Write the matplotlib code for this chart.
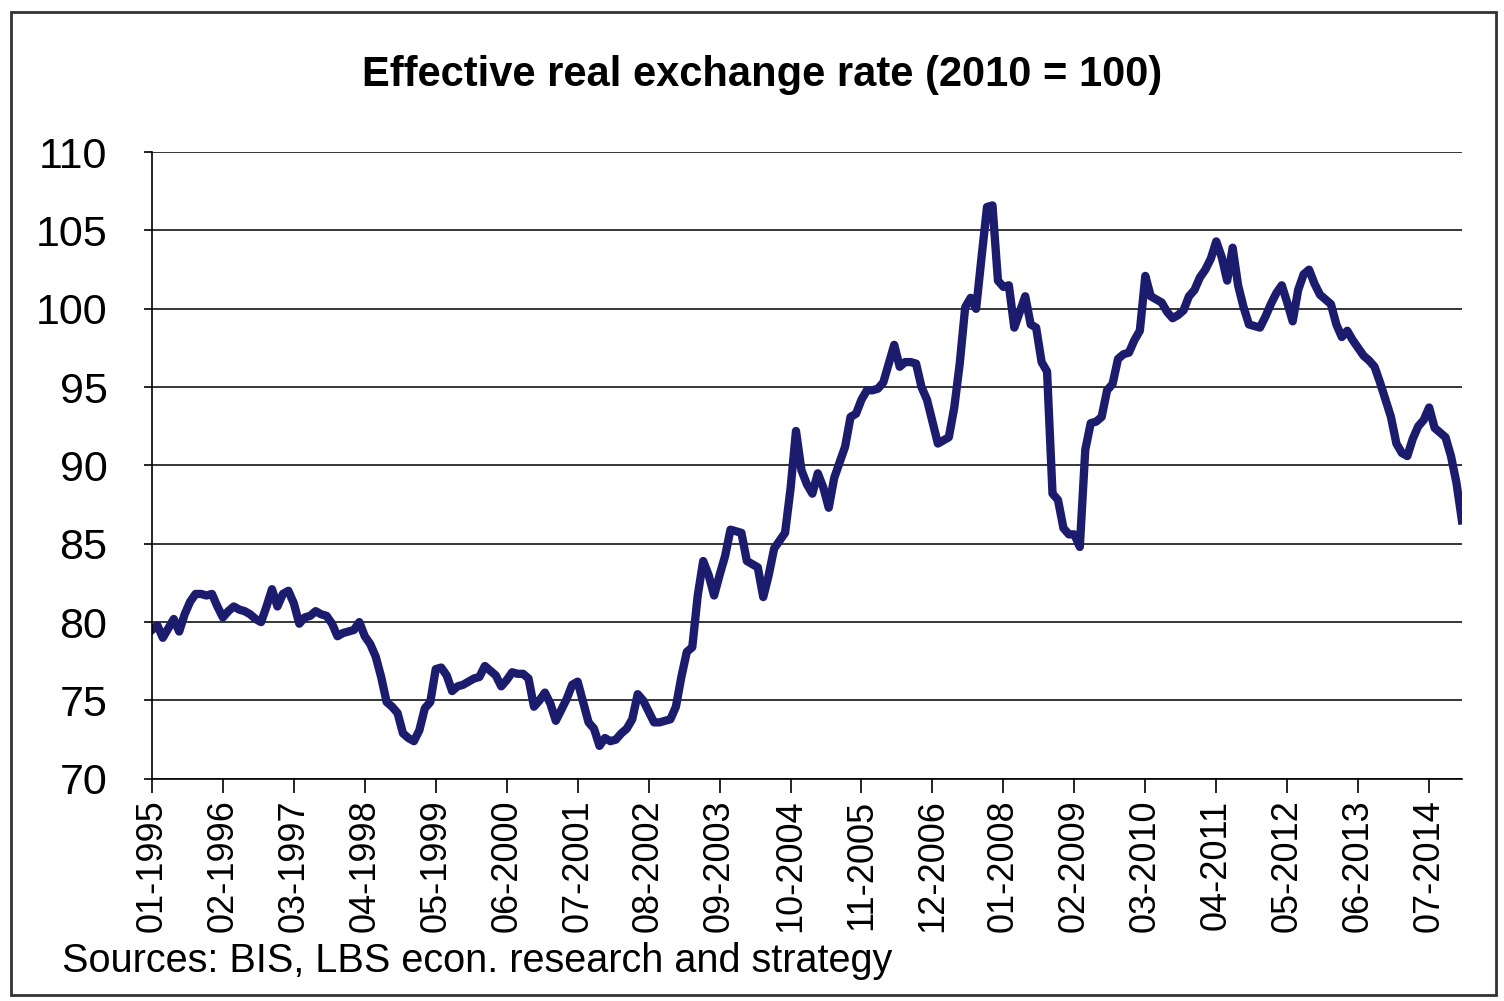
import matplotlib
matplotlib.use("Agg")
import matplotlib.pyplot as plt
from matplotlib.patches import Rectangle
import numpy as np

# monthly index, 01-1995 .. 01-2015
reer = [
    79.5, 79.8, 79.0, 79.6, 80.2, 79.4, 80.5, 81.3, 81.8, 81.8, 81.7, 81.8,
    81.0, 80.3, 80.7, 81.0, 80.8, 80.7, 80.5, 80.2, 80.0, 81.0, 82.1, 81.0,
    81.8, 82.0, 81.2, 79.9, 80.3, 80.4, 80.7, 80.5, 80.4, 79.9, 79.1, 79.3,
    79.4, 79.5, 80.0, 79.1, 78.6, 77.8, 76.5, 74.9, 74.6, 74.2, 72.9, 72.6,
    72.4, 73.1, 74.5, 74.9, 77.0, 77.1, 76.6, 75.6, 75.9, 76.0, 76.2, 76.4,
    76.5, 77.2, 76.9, 76.6, 75.9, 76.3, 76.8, 76.7, 76.7, 76.4, 74.6, 75.0,
    75.5, 74.8, 73.7, 74.4, 75.1, 76.0, 76.2, 74.9, 73.6, 73.2, 72.1, 72.6,
    72.4, 72.5, 72.9, 73.2, 73.8, 75.4, 75.0, 74.3, 73.6, 73.6, 73.7, 73.8,
    74.6, 76.5, 78.1, 78.4, 81.7, 83.9, 83.0, 81.7, 83.0, 84.2, 85.9, 85.8,
    85.7, 83.9, 83.7, 83.5, 81.6, 83.0, 84.7, 85.2, 85.7, 88.5, 92.2, 89.7,
    88.8, 88.2, 89.5, 88.6, 87.3, 89.2, 90.2, 91.2, 93.1, 93.3, 94.2, 94.8,
    94.8, 94.9, 95.3, 96.5, 97.7, 96.3, 96.6, 96.6, 96.5, 95.0, 94.2, 92.8,
    91.4, 91.6, 91.8, 93.7, 96.5, 100.1, 100.7, 100.0, 103.3, 106.5, 106.6, 101.8,
    101.4, 101.5, 98.8, 99.8, 100.8, 99.0, 98.8, 96.6, 96.0, 88.2, 87.8, 86.0,
    85.6, 85.6, 84.8, 91.0, 92.7, 92.8, 93.1, 94.8, 95.2, 96.8, 97.1, 97.2,
    98.0, 98.6, 102.1, 100.8, 100.6, 100.4, 99.8, 99.4, 99.6, 99.9, 100.8, 101.2,
    102.0, 102.5, 103.2, 104.3, 103.3, 101.8, 103.9, 101.5, 100.1, 99.0, 98.9, 98.8,
    99.5, 100.3, 101.0, 101.5, 100.4, 99.2, 101.2, 102.2, 102.5, 101.6, 100.9, 100.6,
    100.3, 99.0, 98.2, 98.6, 98.0, 97.5, 97.0, 96.7, 96.3, 95.3, 94.2, 93.1,
    91.4, 90.8, 90.6, 91.7, 92.5, 92.9, 93.7, 92.4, 92.1, 91.8, 90.6, 88.9,
    86.5,
]
start_year = 1995
months = [f"{(i % 12) + 1:02d}-{start_year + i // 12}" for i in range(len(reer))]
tick_step = 13
y_ticks = [70, 75, 80, 85, 90, 95, 100, 105, 110]

plt.rcParams['font.family'] = ['Liberation Sans', 'DejaVu Sans']

fig = plt.figure(figsize=(15.04, 10.01), dpi=100)
fig.patch.set_facecolor('white')

# outer frame of the chart area
fig.patches.append(Rectangle((0.007, 0.006), 0.988, 0.982, transform=fig.transFigure,
                             fill=False, edgecolor='#333333', linewidth=2.0))

ax = fig.add_axes([0.101, 0.222, 0.871, 0.626])
x = np.arange(len(reer))
ax.plot(x, reer, color='#1c1c6e', linewidth=6, solid_joinstyle='round')

ax.set_xlim(0, len(reer) - 1)
ax.set_ylim(70, 110)
ax.set_yticks(y_ticks)
ax.set_yticklabels([str(v) for v in y_ticks], fontsize=31)
ax.yaxis.grid(True, color='black', linewidth=1.1)
ax.set_axisbelow(True)

tick_pos = x[::tick_step]
ax.set_xticks(tick_pos)
ax.set_xticklabels([months[i] for i in tick_pos], rotation=90, fontsize=26)

for side in ['top', 'right']:
    ax.spines[side].set_visible(False)
ax.spines['left'].set_linewidth(1.2)
ax.spines['bottom'].set_linewidth(1.2)
ax.tick_params(axis='x', direction='out', length=10, width=1.2, pad=5)
ax.tick_params(axis='y', direction='out', length=6, width=1.2, pad=26)

fig.text(0.507, 0.925, "Effective real exchange rate (2010 = 100)", ha='center', va='center',
         fontsize=30, fontweight='bold')
fig.text(0.041, 0.040, "Sources: BIS, LBS econ. research and strategy", ha='left', va='center',
         fontsize=28.5)

fig.savefig("out.png", dpi=100, facecolor='white')
